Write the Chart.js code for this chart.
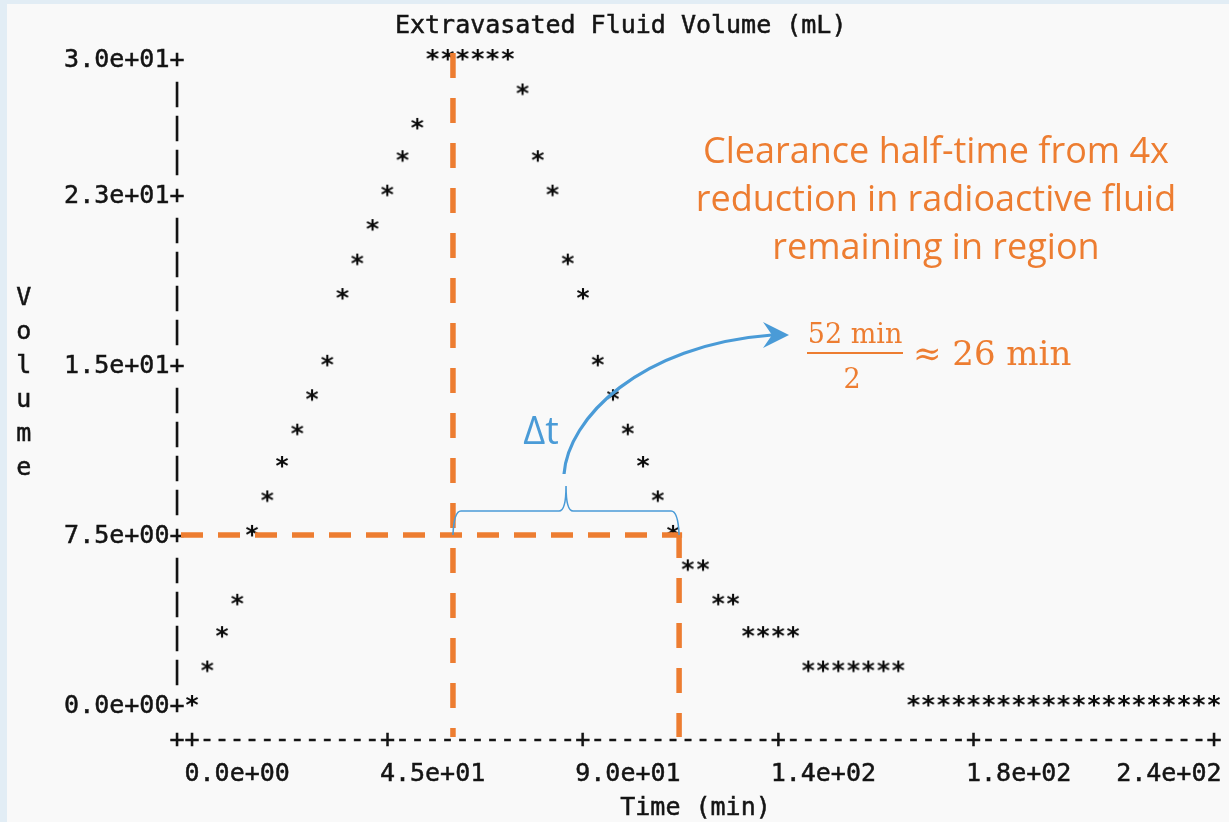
<!DOCTYPE html>
<html>
<head>
<meta charset="utf-8">
<title>Extravasated Fluid Volume</title>
<script src="https://cdn.jsdelivr.net/npm/chart.js@4.4.1/dist/chart.umd.min.js"></script>
<style>
  html, body { margin: 0; padding: 0; background: #e2edf5; }
  canvas { display: block; }
</style>
</head>
<body>
<canvas id="volumeChart" width="1229" height="822"></canvas>
<script>
// sample times (min)
const times = [
  0, 3.5, 6.9, 10.4, 13.8, 17.3, 20.7, 24.2, 27.6, 31.1,
  34.6, 38.0, 41.5, 44.9, 48.4, 51.8, 55.3, 58.8, 62.2, 65.7,
  69.1, 72.6, 76.0, 79.5, 82.9, 86.4, 89.9, 93.3, 96.8, 100.2,
  103.7, 107.1, 110.6, 114.0, 117.5, 121.0, 124.4, 127.9, 131.3, 134.8,
  138.2, 141.7, 145.1, 148.6, 152.1, 155.5, 159.0, 162.4, 165.9, 169.3,
  172.8, 176.3, 179.7, 183.2, 186.6, 190.1, 193.5, 197.0, 200.4, 203.9,
  207.4, 210.8, 214.3, 217.7, 221.2, 224.6, 228.1, 231.5, 235.0
];

// extravasated fluid volume (mL) at each sample
const volumes = [
  0.0, 1.6, 3.2, 4.7, 7.9, 9.5, 11.1, 12.6, 14.2, 15.8,
  18.9, 20.5, 22.1, 23.7, 25.3, 26.8, 30.0, 30.0, 30.0, 30.0,
  30.0, 30.0, 28.4, 25.3, 23.7, 20.5, 18.9, 15.8, 14.2, 12.6,
  11.1, 9.5, 7.9, 6.3, 6.3, 4.7, 4.7, 3.2, 3.2, 3.2,
  3.2, 1.6, 1.6, 1.6, 1.6, 1.6, 1.6, 1.6, 0.0, 0.0,
  0.0, 0.0, 0.0, 0.0, 0.0, 0.0, 0.0, 0.0, 0.0, 0.0,
  0.0, 0.0, 0.0, 0.0, 0.0, 0.0, 0.0, 0.0, 0.0
];

const xTicks = [0, 45, 90, 135, 180, 235];
const yTicks = [0, 7.5, 15, 22.5, 30];

// quarter of the 30 mL peak and the times where the curve crosses it
const quarterVolume = 7.5;
const tQuarterStart = 60;
const tQuarterEnd = 112;

const MONO = '25px "DejaVu Sans Mono"';
const INK = '#141414';
const ORANGE = '#ed7d31';
const BLUE = '#4a9bd7';

// 22.5 -> "2.3e+01"
function sci(v) {
  const parts = v.toExponential(1).split('e');
  const exp = parts[1];
  return parts[0] + 'e' + exp[0] + exp.slice(1).padStart(2, '0');
}

// asterisk marker, sitting high in its cell like terminal output
function makeStar() {
  const c = document.createElement('canvas');
  c.width = 20;
  c.height = 34;
  const g = c.getContext('2d');
  g.font = 'bold ' + MONO;
  g.fillStyle = '#0a0a0a';
  g.textAlign = 'center';
  g.textBaseline = 'alphabetic';
  g.fillText('*', 10, 26);
  return c;
}

// character cell layout of the text plot
function cells(chart) {
  const a = chart.chartArea;
  const colW = (a.right - a.left) / 69;
  const rowH = (a.bottom - a.top) / 19;
  return {
    colW: colW,
    rowH: rowH,
    colX: c => a.left + (c + 1) * colW,
    rowY: r => a.top + r * rowH,
    colOf: px => Math.round((px - a.left) / colW) - 1,
    rowOf: py => Math.floor((py - a.top) / rowH + 1e-6)
  };
}

function monoText(ctx, str, x, y, align) {
  ctx.font = MONO;
  ctx.fillStyle = INK;
  ctx.strokeStyle = INK;
  ctx.lineWidth = 0.5;
  ctx.textAlign = align || 'center';
  ctx.textBaseline = 'alphabetic';
  ctx.fillText(str, x, y + 9);
  ctx.strokeText(str, x, y + 9);
}

const backdrop = {
  id: 'backdrop',
  beforeDraw(chart) {
    const ctx = chart.ctx;
    ctx.save();
    ctx.fillStyle = '#e2edf5';
    ctx.fillRect(0, 0, chart.width, chart.height);
    ctx.fillStyle = '#f9f9f9';
    ctx.fillRect(7, 4, chart.width - 7, chart.height - 4);
    ctx.restore();
  }
};

// axes drawn the way a terminal plot prints them
const textAxes = {
  id: 'textAxes',
  beforeDatasetsDraw(chart) {
    const ctx = chart.ctx;
    const g = cells(chart);
    const xs = chart.scales.x;
    const ys = chart.scales.y;
    ctx.save();

    monoText(ctx, 'Extravasated Fluid Volume (mL)', g.colX(14) - g.colW / 2, g.rowY(-1), 'left');

    const tickRows = new Set();
    yTicks.forEach(v => {
      const r = g.rowOf(ys.getPixelForValue(v));
      tickRows.add(r);
      monoText(ctx, sci(v) + '+', g.colX(-1) + g.colW / 2, g.rowY(r), 'right');
    });
    for (let r = 0; r <= 19; r++) {
      if (!tickRows.has(r)) monoText(ctx, '|', g.colX(-1), g.rowY(r));
    }

    'Volume'.split('').forEach((ch, i) => {
      monoText(ctx, ch, g.colX(-11) - 3, g.rowY(7 + i));
    });

    const tickCols = new Set(xTicks.map(v => g.colOf(xs.getPixelForValue(v))));
    for (let c = -1; c <= 68; c++) {
      const ch = (c === -1 || tickCols.has(c)) ? '+' : '-';
      monoText(ctx, ch, g.colX(c), g.rowY(20));
    }
    xTicks.forEach((v, i) => {
      const c = g.colOf(xs.getPixelForValue(v));
      if (i === xTicks.length - 1) {
        monoText(ctx, sci(v), g.colX(c) + g.colW / 2, g.rowY(21), 'right');
      } else {
        monoText(ctx, sci(v), g.colX(c) - g.colW / 2, g.rowY(21), 'left');
      }
    });

    const a = chart.chartArea;
    monoText(ctx, 'Time (min)', (a.left + a.right) / 2, g.rowY(22));
    ctx.restore();
  }
};

// half-time markup: dashed guides, brace, arrow and notes
const halfTime = {
  id: 'halfTime',
  afterDatasetsDraw(chart) {
    const ctx = chart.ctx;
    const g = cells(chart);
    const xs = chart.scales.x;
    const ys = chart.scales.y;
    const yq = g.rowY(g.rowOf(ys.getPixelForValue(quarterVolume))) + 1;
    const x1 = xs.getPixelForValue(tQuarterStart);
    const x2 = xs.getPixelForValue(tQuarterEnd);
    const yAxisRow = g.rowY(20) - 1;

    ctx.save();
    ctx.strokeStyle = ORANGE;
    ctx.lineWidth = 5.5;
    ctx.lineCap = 'butt';

    ctx.setLineDash([22, 15]);
    ctx.beginPath();
    ctx.moveTo(g.colX(-1) + 4, yq);
    ctx.lineTo(x2 + 3, yq);
    ctx.stroke();

    ctx.setLineDash([25, 20]);
    ctx.beginPath();
    ctx.moveTo(x1, g.rowY(0) - 5);
    ctx.lineTo(x1, yAxisRow);
    ctx.stroke();

    ctx.beginPath();
    ctx.moveTo(x2, yq - 2);
    ctx.lineTo(x2, yAxisRow);
    ctx.stroke();
    ctx.setLineDash([]);

    // brace over the interval
    const mid = (x1 + x2) / 2;
    const yBar = yq - 24;
    const yTip = yq - 49;
    ctx.strokeStyle = BLUE;
    ctx.lineWidth = 1.6;
    ctx.beginPath();
    ctx.moveTo(x1, yq);
    ctx.quadraticCurveTo(x1 + 1, yBar, x1 + 8, yBar);
    ctx.lineTo(mid - 7, yBar);
    ctx.quadraticCurveTo(mid, yBar, mid, yTip);
    ctx.quadraticCurveTo(mid, yBar, mid + 7, yBar);
    ctx.lineTo(x2 - 8, yBar);
    ctx.quadraticCurveTo(x2 - 1, yBar, x2, yq);
    ctx.stroke();

    // curved arrow to the result
    const sx = mid - 2, sy = yTip - 12;
    const ex = 772, ey = 335;
    ctx.lineWidth = 3.2;
    ctx.beginPath();
    ctx.moveTo(sx, sy);
    ctx.bezierCurveTo(sx + 4, sy - 55, ex - 133, ey + 10, ex, ey);
    ctx.stroke();
    ctx.fillStyle = BLUE;
    ctx.beginPath();
    ctx.moveTo(ex + 17, ey);
    ctx.lineTo(ex - 9, ey - 13);
    ctx.lineTo(ex, ey);
    ctx.lineTo(ex - 9, ey + 13);
    ctx.closePath();
    ctx.fill();

    ctx.font = '38px "Open Sans"';
    ctx.textAlign = 'center';
    ctx.textBaseline = 'alphabetic';
    ctx.fillText('\u0394t', mid - 25, yTip - 42);

    // note
    ctx.fillStyle = ORANGE;
    ctx.font = '36px "Open Sans"';
    ctx.fillText('Clearance half-time from 4x', 936, 163);
    ctx.fillText('reduction in radioactive fluid', 936, 211);
    ctx.fillText('remaining in region', 936, 259);

    // fraction
    const span = tQuarterEnd - tQuarterStart;
    ctx.font = '27px "DejaVu Serif"';
    ctx.fillText(span + ' min', 855, 343);
    ctx.fillText('2', 852, 388);
    ctx.fillRect(807, 352, 96, 2);
    ctx.font = '34px "DejaVu Serif"';
    ctx.textAlign = 'left';
    ctx.fillText('\u2248 ' + (span / 2) + ' min', 913, 365);
    ctx.restore();
  }
};

new Chart(document.getElementById('volumeChart'), {
  type: 'scatter',
  data: {
    datasets: [{
      label: 'Volume',
      data: times.map((t, i) => ({ x: t, y: volumes[i] })),
      pointStyle: makeStar(),
      pointRadius: 6,
      showLine: false,
      clip: false
    }]
  },
  options: {
    responsive: false,
    devicePixelRatio: 1,
    animation: false,
    events: [],
    layout: {
      autoPadding: false,
      padding: { left: 177, right: 15, top: 58, bottom: 118 }
    },
    plugins: {
      legend: { display: false },
      tooltip: { enabled: false },
      title: { display: false }
    },
    scales: {
      x: { type: 'linear', min: -3.456, max: 235, display: false },
      y: { type: 'linear', min: 0, max: 30, display: false }
    }
  },
  plugins: [backdrop, textAxes, halfTime]
});
</script>
</body>
</html>
